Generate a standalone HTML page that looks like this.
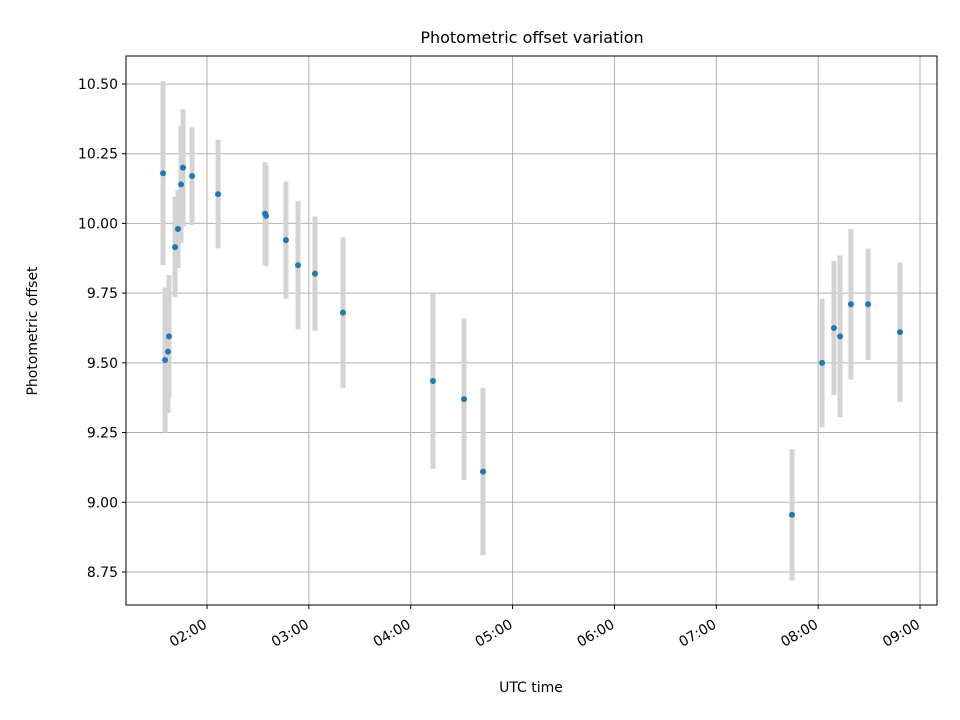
<!DOCTYPE html>
<html><head><meta charset="utf-8"><style>body{margin:0;background:#fff}svg{display:block;font-family:"DejaVu Sans","Liberation Sans",sans-serif}</style></head>
<body>
<svg id="chart" width="960" height="720">
<rect x="0" y="0" width="960" height="720" fill="#fff"/>
<text x="532" y="43" text-anchor="middle" font-size="16">Photometric offset variation</text>
<text x="531" y="692" text-anchor="middle" font-size="14">UTC time</text>
<text transform="translate(37,331) rotate(-90)" text-anchor="middle" font-size="14">Photometric offset</text>
<g id="grid"></g><g id="errs"></g><g id="pts"></g><g id="ticks"></g>
<rect x="126" y="56" width="811" height="549" fill="none" stroke="#000" stroke-width="1"/>
</svg>
<script>
const timesMin=[94.1,95.3,97.0,97.6,101.2,102.9,104.7,105.9,111.2,126.5,154.2,154.8,166.5,173.6,183.6,200.1,253.1,271.4,282.6,464.6,482.3,489.3,492.9,499.3,509.4,528.2];
const offsets=[10.18,9.51,9.54,9.595,9.915,9.98,10.14,10.20,10.17,10.105,10.035,10.027,9.94,9.85,9.82,9.68,9.435,9.37,9.11,8.955,9.50,9.625,9.595,9.71,9.71,9.61];
const errors=[0.33,0.26,0.22,0.22,0.18,0.14,0.21,0.21,0.175,0.195,0.185,0.18,0.21,0.23,0.205,0.27,0.315,0.29,0.30,0.235,0.23,0.24,0.29,0.27,0.20,0.25];
const yTicks=[8.75,9.00,9.25,9.50,9.75,10.00,10.25,10.50];
const xTicksHour=[2,3,4,5,6,7,8,9];
const NS="http://www.w3.org/2000/svg";
function X(min){return 207+(min-120)/60*101.86;}
function Y(v){return 84+(10.5-v)/0.25*69.71;}
function mk(tag,attrs,parent){const e=document.createElementNS(NS,tag);for(const k in attrs)e.setAttribute(k,attrs[k]);document.getElementById(parent).appendChild(e);return e;}
yTicks.forEach(v=>{const y=Y(v);
 const g=mk('line',{x1:126,x2:937,y1:y,y2:y,stroke:'#b0b0b0','stroke-width':1},'grid');
 
 
 const t=mk('line',{x1:122,x2:126,y1:y,y2:y,stroke:'#000'},'ticks');
 
 
 const l=mk('text',{x:118,y:y+5,'text-anchor':'end','font-size':14},'ticks');l.textContent=v.toFixed(2);
 
 
});
xTicksHour.forEach(h=>{const x=X(h*60);
 const g=mk('line',{x1:x,x2:x,y1:56,y2:605,stroke:'#b0b0b0','stroke-width':1},'grid');
 
 
 const t=mk('line',{x1:x,x2:x,y1:605,y2:609,stroke:'#000'},'ticks');
 
 
 const l=mk('text',{transform:`translate(${x+1},${627}) rotate(-30)`,'text-anchor':'end','font-size':14},'ticks');
 l.textContent=String(h).padStart(2,'0')+':00';
 
 
});
timesMin.forEach((m,i)=>{const x=X(m);
 const e=mk('line',{x1:x,x2:x,y1:Y(offsets[i]+errors[i]),y2:Y(offsets[i]-errors[i]),stroke:'#d3d3d3','stroke-width':5},'errs');
 
 
 const c=mk('circle',{cx:x,cy:Y(offsets[i]),r:3,fill:'#1f77b4'},'pts');
 
 
});
</script>
</body></html>
